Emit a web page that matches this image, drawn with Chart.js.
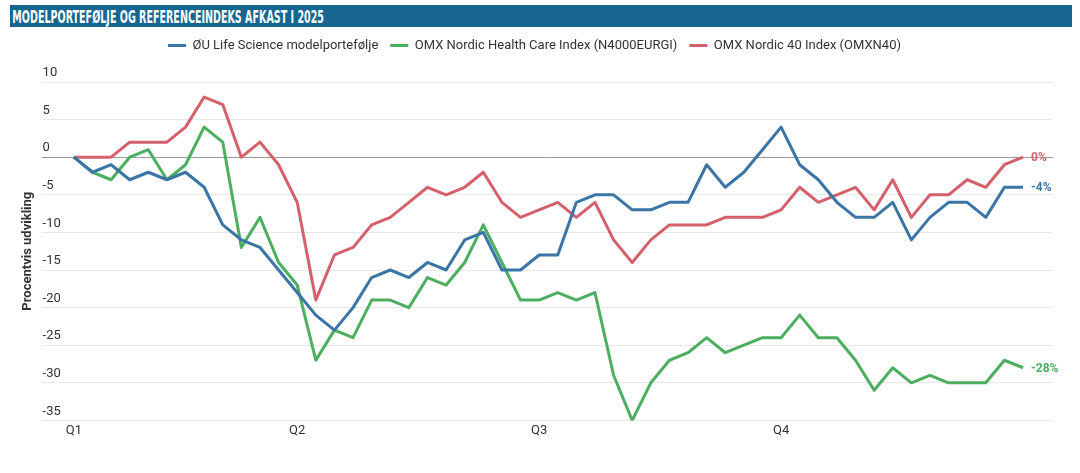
<!DOCTYPE html>
<html>
<head>
<meta charset="utf-8">
<script src="https://cdn.jsdelivr.net/npm/chart.js@4.4.1/dist/chart.umd.min.js"></script>
<style>
  body { margin: 0; background: #fff; }
  #wrap { position: relative; width: 1080px; height: 473px; }
  #titlebar {
    position: absolute; left: 10px; top: 5px; width: 1062px; height: 22px;
    background: #17668f; overflow: hidden;
  }
  #titletext {
    display: inline-block; color: #fff; font-family: 'DejaVu Sans Condensed', 'DejaVu Sans', sans-serif;
    font-weight: bold; font-size: 18px; line-height: 24px; padding-left: 4px;
    transform-origin: left center; white-space: nowrap;
  }
  canvas { position: absolute; left: 0; top: 0; }
</style>
</head>
<body>
<div id="wrap">
  <canvas id="chart" width="1080" height="473"></canvas>
  <div id="titlebar"><span id="titletext">MODELPORTEFØLJE OG REFERENCEINDEKS AFKAST I 2025</span></div>
</div>
<script>
// Ugentlige værdier (indeks 0 = Q1 start)
const quarterLabels = ['Q1', 'Q2', 'Q3', 'Q4'];
const quarterIdx = [0, 12, 25, 38];

const seriesNames = [
  'ØU Life Science modelportefølje',
  'OMX Nordic Health Care Index (N4000EURGI)',
  'OMX Nordic 40 Index (OMXN40)'
];
const seriesColors = ['#3a75a6', '#4cae5f', '#d4606b'];
const endLabels = ['-4%', '-28%', '0%'];

const modelportefolje = [
  0, -2, -1, -3, -2, -3, -2, -4, -9, -11, -12, -15, -18, -21,
  -23, -20, -16, -15, -16, -14, -15, -11, -10, -15, -15, -13, -13, -6, -5, -5,
  -7, -7, -6, -6, -1, -4, -2, 1, 4, -1, -3, -6, -8, -8, -6,
  -11, -8, -6, -6, -8, -4, -4
];
const healthCare = [
  0, -2, -3, 0, 1, -3, -1, 4, 2, -12, -8, -14, -17, -27,
  -23, -24, -19, -19, -20, -16, -17, -14, -9, -14, -19, -19, -18, -19, -18, -29,
  -35, -30, -27, -26, -24, -26, -25, -24, -24, -21, -24, -24, -27, -31, -28,
  -30, -29, -30, -30, -30, -27, -28
];
const nordic40 = [
  0, 0, 0, 2, 2, 2, 4, 8, 7, 0, 2, -1, -6, -19,
  -13, -12, -9, -8, -6, -4, -5, -4, -2, -6, -8, -7, -6, -8, -6, -11,
  -14, -11, -9, -9, -9, -8, -8, -8, -7, -4, -6, -5, -4, -7, -3,
  -8, -5, -5, -3, -4, -1, 0
];

const yMin = -35, yMax = 10, yStep = 5;

// titel komprimeres til bredden i originalen
const tt = document.getElementById('titletext');
tt.style.transform = 'scaleX(' + (314 / tt.getBoundingClientRect().width) + ')';

Chart.defaults.font.family = 'Roboto, "Noto Sans", sans-serif';
Chart.defaults.color = '#333';

const allSeries = [modelportefolje, healthCare, nordic40];

// slut-etiketter ved sidste punkt
const endLabelPlugin = {
  id: 'endLabels',
  afterDatasetsDraw(chart) {
    const ctx = chart.ctx;
    ctx.save();
    ctx.font = 'bold 12px Roboto, sans-serif';
    ctx.textBaseline = 'middle';
    ctx.textAlign = 'left';
    chart.data.datasets.forEach((ds, i) => {
      const meta = chart.getDatasetMeta(i);
      const pt = meta.data[meta.data.length - 1];
      ctx.fillStyle = seriesColors[i];
      ctx.fillText(endLabels[i], pt.x + 8, pt.y + 1);
    });
    ctx.restore();
  }
};

// ekstra luft under legenden
const legendMargin = {
  id: 'legendMargin',
  beforeInit(chart) {
    const fit = chart.legend.fit;
    chart.legend.fit = function () {
      fit.bind(chart.legend)();
      this.height += 20;
    };
  }
};

new Chart(document.getElementById('chart'), {
  type: 'line',
  data: {
    datasets: allSeries.map((vals, i) => ({
      label: seriesNames[i],
      data: vals.map((v, j) => ({ x: j, y: v })),
      borderColor: seriesColors[i],
      backgroundColor: seriesColors[i],
      borderWidth: 3,
      pointRadius: 0,
      tension: 0,
      borderJoinStyle: 'round'
    }))
  },
  options: {
    responsive: false,
    animation: false,
    layout: { padding: { top: 27, left: 16, right: 27, bottom: 31 } },
    plugins: {
      legend: {
        position: 'top',
        labels: {
          usePointStyle: true,
          pointStyle: 'line',
          pointStyleWidth: 18,
          boxHeight: 12,
          font: { size: 13 },
          color: '#333',
          padding: 12
        }
      },
      tooltip: { enabled: false }
    },
    scales: {
      x: {
        type: 'linear',
        min: -1.734,
        max: 52.61,
        afterBuildTicks(scale) {
          scale.ticks = quarterIdx.map(v => ({ value: v }));
        },
        ticks: {
          autoSkip: false,
          maxRotation: 0,
          padding: 3,
          font: { size: 13 },
          color: '#333',
          callback(value) {
            const k = quarterIdx.indexOf(value);
            return k >= 0 ? quarterLabels[k] : '';
          }
        },
        grid: { display: false, drawTicks: false },
        border: { display: false }
      },
      y: {
        min: yMin,
        max: yMax,
        ticks: {
          stepSize: yStep,
          mirror: true,
          padding: 1,
          labelOffset: -9,
          font: { size: 13 },
          color: '#333'
        },
        grid: {
          drawTicks: false,
          color: ctx => ctx.tick && ctx.tick.value === 0 ? '#999' : '#e8e8e8',
          lineWidth: 1
        },
        border: { display: false },
        title: {
          display: true,
          text: 'Procentvis udvikling',
          font: { size: 13, weight: 'bold' },
          color: '#333'
        }
      }
    }
  },
  plugins: [endLabelPlugin, legendMargin]
});
</script>
</body>
</html>
